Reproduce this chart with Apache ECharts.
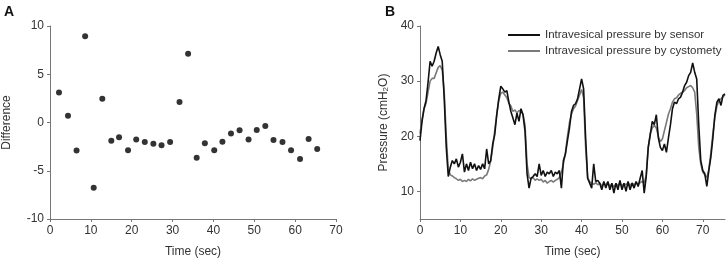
<!DOCTYPE html>
<html style="height: 100%">
<head>
    <meta charset="utf-8">
</head>
<body style="height: 100%; margin: 0; background: #fff">
<div id="container" style="width: 726px; height: 263px"></div>
<script type="text/javascript" src="https://cdn.jsdelivr.net/npm/echarts@6/dist/echarts.min.js"></script>
<script type="text/javascript">
    // panel A: difference between sensor and cystometry
    var diffTime = [2.2, 4.4, 6.5, 8.6, 10.7, 12.8, 15.0, 16.9, 19.1, 21.1, 23.2, 25.3, 27.3, 29.4, 31.7, 33.8,
        35.9, 37.9, 40.2, 42.2, 44.3, 46.4, 48.6, 50.6, 52.7, 54.7, 56.9, 59.0, 61.2, 63.3, 65.4];
    var diffValue = [3.1, 0.7, -2.9, 8.95, -6.76, 2.47, -1.89, -1.52, -2.87, -1.76, -2.03, -2.2, -2.36, -2.03, 2.13, 7.13,
        -3.65, -2.16, -2.87, -1.99, -1.15, -0.81, -1.76, -0.78, -0.37, -1.82, -2.03, -2.87, -3.78, -1.72, -2.74];
    var diffTicks = [-10, -5, 0, 5, 10];

    // panel B: pressure traces
    var pressTime = [0, 0.5, 1, 1.5, 2, 2.5, 3, 3.5, 4, 4.5, 5, 5.5, 6, 6.5, 7, 7.5, 8, 8.5, 9, 9.5,
        10, 10.5, 11, 11.5, 12, 12.5, 13, 13.5, 14, 14.5, 15, 15.5, 16, 16.5, 17, 17.5, 18, 18.5, 19, 19.5,
        20, 20.5, 21, 21.5, 22, 22.5, 23, 23.5, 24, 24.5, 25, 25.5, 26, 26.5, 27, 27.5, 28, 28.5, 29, 29.5,
        30, 30.5, 31, 31.5, 32, 32.5, 33, 33.5, 34, 34.5, 35, 35.5, 36, 36.5, 37, 37.5, 38, 38.5, 39, 39.5,
        40, 40.5, 41, 41.5, 42, 42.5, 43, 43.5, 44, 44.5, 45, 45.5, 46, 46.5, 47, 47.5, 48, 48.5, 49, 49.5,
        50, 50.5, 51, 51.5, 52, 52.5, 53, 53.5, 54, 54.5, 55, 55.5, 56, 56.5, 57, 57.5, 58, 58.5, 59, 59.5,
        60, 60.5, 61, 61.5, 62, 62.5, 63, 63.5, 64, 64.5, 65, 65.5, 66, 66.5, 67, 67.5, 68, 68.5, 69, 69.5,
        70, 70.5, 71, 71.5, 72, 72.5, 73, 73.5, 74, 74.5, 75, 75.5];
    var sensor = [19.2, 22.7, 25, 26.5, 29.8, 33.6, 32.7, 33.6, 35.1, 36.3, 34.8, 33.6, 26.8, 18, 12.7, 14.4, 15.6, 15, 15.9, 14.4,
        15.3, 16.8, 13.5, 15, 13.8, 15.3, 14.1, 15, 13.8, 14.7, 14, 15, 14.1, 17.7, 15, 15.6, 18.6, 20.3, 23.9, 26.8,
        29.1, 28.6, 28, 28.3, 26.2, 24.5, 23.3, 22.1, 24.2, 22.7, 25, 23.9, 20.9, 13.2, 10.6, 12.4, 12.7, 13.2, 12.7, 15,
        12.9, 13.8, 12.7, 13.5, 13.2, 13.8, 12.7, 13.5, 13.2, 13.8, 10.6, 15.6, 16.8, 19.2, 21.5, 24.5, 25.6, 25.9, 26.8, 28.6,
        30.4, 28.6, 19.7, 12.4, 11.5, 10.6, 15, 11.8, 12, 11.5, 10.3, 11.8, 10.6, 11.8, 10.3, 11.5, 9.7, 11.5, 10.3, 12,
        10.3, 11.5, 10, 11.8, 10.3, 11.5, 10.6, 11.8, 10.9, 12.4, 13.8, 9.7, 12.7, 18, 20.3, 22.7, 22.1, 23.9, 19.7, 18,
        17.4, 18.6, 17.1, 19.7, 22.1, 25, 26.2, 25.9, 26.8, 27.1, 28, 29.2, 29.8, 31, 31.6, 33.3, 31.6, 30.4, 22.1, 15.6,
        13.8, 13.2, 10.9, 13.8, 16.2, 19.7, 23.9, 26.2, 26.8, 25.6, 27.4, 27.7];
    var cystometry = [20.5, 23, 25, 26, 28, 30, 30.5, 30.5, 31.5, 32.5, 32.8, 32, 28, 20, 14, 13, 12.8, 12.5, 12.3, 12,
        12.2, 11.8, 12, 11.8, 12.2, 11.9, 12.3, 12, 12.2, 12.4, 12.5, 12.3, 12.8, 13, 14, 15.5, 18, 21, 24, 26.5,
        27.8, 28, 27.5, 27, 26, 25.5, 24.5, 24.8, 24.2, 24.7, 24.5, 24, 22, 15, 12.5, 12.3, 12.5, 12, 12.3, 12,
        12.2, 11.7, 12, 11.5, 11.8, 12, 11.7, 12, 12.2, 12.5, 13.5, 15, 17, 20, 22.5, 24, 25, 25.5, 26.5, 27.5,
        28.5, 27, 18, 12.5, 11.8, 11.5, 11.3, 11.6, 11.2, 11.5, 11, 11.4, 11.2, 11.6, 11, 11.3, 10.8, 11.4, 11.1, 11.5,
        11, 11.4, 11.2, 11.6, 11.1, 11.5, 11.2, 11.6, 11.3, 11.6, 11.8, 11.5, 13, 18, 20.5, 21.5, 22, 21.5, 20, 19,
        19.5, 21, 22.5, 24, 25, 26.2, 26.8, 27, 27.5, 27.8, 28, 28.3, 28.8, 29, 29.2, 28.8, 28, 24, 18, 15,
        13.5, 13, 12.5, 14, 17, 20.5, 23.5, 25.5, 26.5, 26.8, 27.2, 27.5];
    var pressTicks = [10, 20, 30, 40];
    var timeTicks = [0, 10, 20, 30, 40, 50, 60, 70];

    function zip(xs, ys) {
        return xs.map(function (x, i) { return [x, ys[i]]; });
    }

    var font = 'Liberation Sans, Arial, sans-serif';
    var axisColor = '#777';
    var labelColor = '#333';

    var dom = document.getElementById("container");
    var myChart = echarts.init(dom, null, {renderer: 'canvas'});

    var option = {
        animation: false,
        backgroundColor: '#fff',
        textStyle: {fontFamily: font},
        title: [
            {text: 'A', left: -1, top: 0, textStyle: {fontSize: 14, fontWeight: 'bold', color: '#111', fontFamily: font}},
            {text: 'B', left: 380, top: 0, textStyle: {fontSize: 14, fontWeight: 'bold', color: '#111', fontFamily: font}}
        ],
        legend: {
            left: 503,
            top: 24,
            orient: 'vertical',
            itemWidth: 32,
            itemHeight: 2,
            itemGap: 4,
            textStyle: {fontSize: 11.5, color: labelColor, fontFamily: font},
            data: [
                {name: 'Intravesical pressure by sensor', icon: 'rect'},
                {name: 'Intravesical pressure by cystomety', icon: 'rect'}
            ]
        },
        grid: [
            {left: 43, top: 26, width: 293, height: 197},
            {left: 420, top: 26, width: 305, height: 197}
        ],
        xAxis: [
            {
                gridIndex: 0, type: 'value', min: 0, max: 70, interval: 10,
                name: 'Time (sec)', nameLocation: 'middle', nameGap: 27,
                nameTextStyle: {fontSize: 12, color: labelColor},
                axisLine: {onZero: false, lineStyle: {color: axisColor}},
                axisTick: {length: 3, lineStyle: {color: axisColor}},
                axisLabel: {fontSize: 12, color: labelColor, margin: 6},
                splitLine: {show: false}
            },
            {
                gridIndex: 1, type: 'value', min: 0, max: 75.5,
                name: 'Time (sec)', nameLocation: 'middle', nameGap: 27,
                nameTextStyle: {fontSize: 12, color: labelColor},
                axisLine: {onZero: false, lineStyle: {color: axisColor}},
                axisTick: {length: 3, lineStyle: {color: axisColor}, customValues: timeTicks},
                axisLabel: {fontSize: 12, color: labelColor, margin: 6, customValues: timeTicks},
                splitLine: {show: false}
            }
        ],
        yAxis: [
            {
                gridIndex: 0, type: 'value', min: -10, max: 10, interval: 5,
                name: 'Difference', nameLocation: 'middle', nameGap: 37,
                nameTextStyle: {fontSize: 12, color: labelColor},
                axisLine: {show: true, onZero: false, lineStyle: {color: axisColor}},
                axisTick: {show: true, length: 3, lineStyle: {color: axisColor}, customValues: diffTicks},
                axisLabel: {fontSize: 12, color: labelColor, margin: 6, customValues: diffTicks},
                splitLine: {show: false}
            },
            {
                gridIndex: 1, type: 'value', min: 5, max: 40,
                name: 'Pressure (cmH{sub|2}O)', nameLocation: 'middle', nameGap: 30,
                nameTextStyle: {
                    fontSize: 12, color: labelColor,
                    rich: {sub: {fontSize: 8, color: labelColor, verticalAlign: 'bottom', padding: [5, 0, 0, 0]}}
                },
                axisLine: {show: true, onZero: false, lineStyle: {color: axisColor}},
                axisTick: {show: true, length: 3, lineStyle: {color: axisColor}, customValues: pressTicks},
                axisLabel: {fontSize: 12, color: labelColor, margin: 6, customValues: pressTicks},
                splitLine: {show: false}
            }
        ],
        series: [
            {
                type: 'scatter', xAxisIndex: 0, yAxisIndex: 0,
                symbolSize: 6,
                itemStyle: {color: '#000'},
                data: zip(diffTime, diffValue)
            },
            {
                name: 'Intravesical pressure by sensor',
                type: 'line', xAxisIndex: 1, yAxisIndex: 1,
                showSymbol: false, z: 3,
                lineStyle: {color: '#111', width: 1.6},
                itemStyle: {color: '#111'},
                data: zip(pressTime, sensor)
            },
            {
                name: 'Intravesical pressure by cystomety',
                type: 'line', xAxisIndex: 1, yAxisIndex: 1,
                showSymbol: false, z: 2,
                lineStyle: {color: '#7a7a7a', width: 1.6},
                itemStyle: {color: '#7a7a7a'},
                data: zip(pressTime, cystometry)
            }
        ]
    };

    myChart.setOption(option);
</script>
</body>
</html>
